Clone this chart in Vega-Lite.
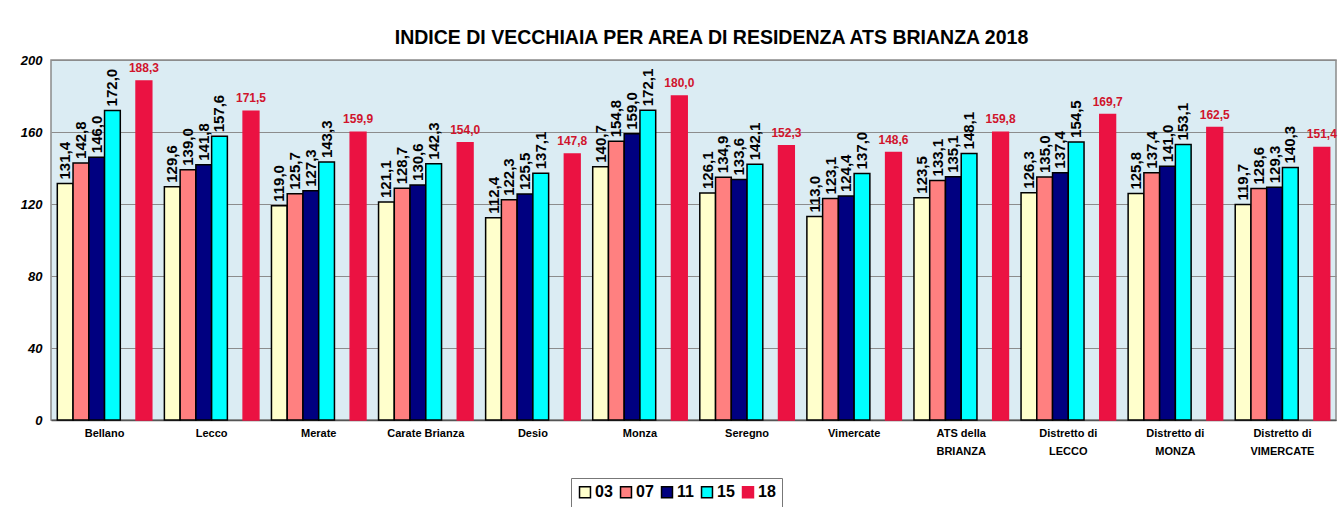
{
  "$schema": "https://vega.github.io/schema/vega-lite/v6.json",
  "autosize": "none",
  "width": 1285,
  "height": 360,
  "padding": {"left": 51, "top": 60, "right": 4, "bottom": 87},
  "background": "white",
  "title": {"text": "INDICE DI VECCHIAIA PER AREA DI RESIDENZA ATS BRIANZA 2018", "anchor": "middle", "dx": 18, "offset": 6, "fontSize": 19.5, "font": "Liberation Sans", "fontWeight": "bold", "color": "#000"},
  "config": {"view": {"fill": "#DBECF3", "stroke": "#8a8a8a", "strokeWidth": 1.5}, "font": "Liberation Sans"},
  "data": {"values": [
    {"area": "Bellano", "year": "03", "value": 131.4}, {"area": "Bellano", "year": "07", "value": 142.8}, {"area": "Bellano", "year": "11", "value": 146.0}, {"area": "Bellano", "year": "15", "value": 172.0}, {"area": "Bellano", "year": "18", "value": 188.3},
    {"area": "Lecco", "year": "03", "value": 129.6}, {"area": "Lecco", "year": "07", "value": 139.0}, {"area": "Lecco", "year": "11", "value": 141.8}, {"area": "Lecco", "year": "15", "value": 157.6}, {"area": "Lecco", "year": "18", "value": 171.5},
    {"area": "Merate", "year": "03", "value": 119.0}, {"area": "Merate", "year": "07", "value": 125.7}, {"area": "Merate", "year": "11", "value": 127.3}, {"area": "Merate", "year": "15", "value": 143.3}, {"area": "Merate", "year": "18", "value": 159.9},
    {"area": "Carate Brianza", "year": "03", "value": 121.1}, {"area": "Carate Brianza", "year": "07", "value": 128.7}, {"area": "Carate Brianza", "year": "11", "value": 130.6}, {"area": "Carate Brianza", "year": "15", "value": 142.3}, {"area": "Carate Brianza", "year": "18", "value": 154.0},
    {"area": "Desio", "year": "03", "value": 112.4}, {"area": "Desio", "year": "07", "value": 122.3}, {"area": "Desio", "year": "11", "value": 125.5}, {"area": "Desio", "year": "15", "value": 137.1}, {"area": "Desio", "year": "18", "value": 147.8},
    {"area": "Monza", "year": "03", "value": 140.7}, {"area": "Monza", "year": "07", "value": 154.8}, {"area": "Monza", "year": "11", "value": 159.0}, {"area": "Monza", "year": "15", "value": 172.1}, {"area": "Monza", "year": "18", "value": 180.0},
    {"area": "Seregno", "year": "03", "value": 126.1}, {"area": "Seregno", "year": "07", "value": 134.9}, {"area": "Seregno", "year": "11", "value": 133.6}, {"area": "Seregno", "year": "15", "value": 142.1}, {"area": "Seregno", "year": "18", "value": 152.3},
    {"area": "Vimercate", "year": "03", "value": 113.0}, {"area": "Vimercate", "year": "07", "value": 123.1}, {"area": "Vimercate", "year": "11", "value": 124.4}, {"area": "Vimercate", "year": "15", "value": 137.0}, {"area": "Vimercate", "year": "18", "value": 148.6},
    {"area": "ATS della BRIANZA", "year": "03", "value": 123.5}, {"area": "ATS della BRIANZA", "year": "07", "value": 133.1}, {"area": "ATS della BRIANZA", "year": "11", "value": 135.1}, {"area": "ATS della BRIANZA", "year": "15", "value": 148.1}, {"area": "ATS della BRIANZA", "year": "18", "value": 159.8},
    {"area": "Distretto di LECCO", "year": "03", "value": 126.3}, {"area": "Distretto di LECCO", "year": "07", "value": 135.0}, {"area": "Distretto di LECCO", "year": "11", "value": 137.4}, {"area": "Distretto di LECCO", "year": "15", "value": 154.5}, {"area": "Distretto di LECCO", "year": "18", "value": 169.7},
    {"area": "Distretto di MONZA", "year": "03", "value": 125.8}, {"area": "Distretto di MONZA", "year": "07", "value": 137.4}, {"area": "Distretto di MONZA", "year": "11", "value": 141.0}, {"area": "Distretto di MONZA", "year": "15", "value": 153.1}, {"area": "Distretto di MONZA", "year": "18", "value": 162.5},
    {"area": "Distretto di VIMERCATE", "year": "03", "value": 119.7}, {"area": "Distretto di VIMERCATE", "year": "07", "value": 128.6}, {"area": "Distretto di VIMERCATE", "year": "11", "value": 129.3}, {"area": "Distretto di VIMERCATE", "year": "15", "value": 140.3}, {"area": "Distretto di VIMERCATE", "year": "18", "value": 151.4}
  ]},
  "transform": [{"calculate": "replace(format(datum.value, '.1f'), '.', ',')", "as": "label"}],
  "encoding": {
    "x": {"field": "area", "type": "nominal", "sort": null, "scale": {"paddingInner": 0, "paddingOuter": 0},
      "axis": {"title": null, "labelAngle": 0, "labelFontWeight": "bold", "labelFontSize": 11, "labelColor": "#000", "labelPadding": 7, "labelBaseline": "top", "labelLineHeight": 18, "ticks": false, "domainColor": "#555", "domainWidth": 1.5,
        "labelExpr": "split(replace(replace(datum.value, 'Distretto di ', 'Distretto di|'), 'ATS della ', 'ATS della|'), '|')"}},
    "xOffset": {"field": "year", "type": "nominal", "scale": {"domain": ["03", "07", "11", "15", "gap", "18"], "paddingInner": 0, "paddingOuter": 0.4}},
    "y": {"field": "value", "type": "quantitative", "scale": {"domain": [0, 200], "nice": false},
      "axis": {"title": null, "values": [0, 40, 80, 120, 160, 200], "labelFontStyle": "italic", "labelFontWeight": "bold", "labelFontSize": 13, "labelColor": "#000", "labelPadding": 9, "ticks": false, "domain": false, "gridColor": "#8c8c8c", "gridWidth": 1}}
  },
  "layer": [
    {"mark": {"type": "bar", "strokeWidth": 1.5},
     "encoding": {
       "color": {"field": "year", "type": "nominal", "scale": {"domain": ["03", "07", "11", "15", "18"], "range": ["#FFFFCC", "#FF8080", "#000080", "#00FFFF", "#EB1242"]},
         "legend": {"orient": "none", "legendX": 520, "legendY": 418, "direction": "horizontal", "title": null, "labelFontSize": 16, "labelFontWeight": "bold", "labelColor": "#000", "symbolType": "square", "symbolSize": 120, "symbolStrokeWidth": 1.5, "strokeColor": "#777", "padding": 6, "columnPadding": 4, "labelOffset": 2}},
       "stroke": {"field": "year", "type": "nominal", "scale": {"domain": ["03", "07", "11", "15", "18"], "range": ["#000", "#000", "#000", "#000", "#EB1242"]}}
     }},
    {"transform": [{"filter": "datum.year != '18'"}],
     "mark": {"type": "text", "angle": 270, "align": "left", "baseline": "middle", "dx": 4, "fontSize": 15, "fontWeight": "bold", "color": "#000"},
     "encoding": {"text": {"field": "label"}}},
    {"transform": [{"filter": "datum.year == '18'"}],
     "mark": {"type": "text", "baseline": "bottom", "dy": -6, "fontSize": 12, "fontWeight": "bold", "color": "#D0142C"},
     "encoding": {"text": {"field": "label"}}}
  ]
}
